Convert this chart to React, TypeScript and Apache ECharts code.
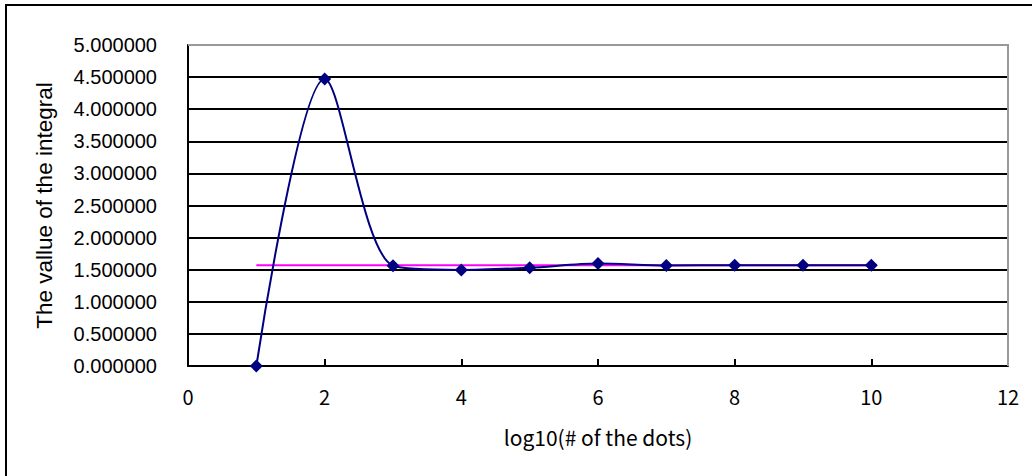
import React, { useEffect, useRef } from "react";
import * as echarts from "echarts";

const xValues = [1, 2, 3, 4, 5, 6, 7, 8, 9, 10];
const integralValues = [0.0, 4.47, 1.562, 1.497, 1.531, 1.595, 1.565, 1.571, 1.571, 1.571];
const referenceX = [1, 10];
const referenceValue = 1.5708;

export default function App() {
  const ref = useRef<HTMLDivElement>(null);
  useEffect(() => {
    document.body.style.margin = "0";
    const chart = echarts.init(ref.current!, null, { renderer: "svg" });
    const font = "'Liberation Sans', Arial, sans-serif";
    const gothic = "'Noto Sans CJK JP', 'DejaVu Sans', sans-serif";
    chart.setOption({
      animation: false,
      backgroundColor: "#ffffff",
      graphic: [
        {
          type: "rect",
          shape: { x: 6, y: 5, width: 1200, height: 600 },
          style: { fill: "none", stroke: "#000", lineWidth: 2 },
          silent: true,
          z: 100,
        },
        {
          type: "line",
          shape: { x1: 188, y1: 45, x2: 1008, y2: 45 },
          style: { stroke: "#999", lineWidth: 2 },
          silent: true,
          z: 100,
        },
        {
          type: "line",
          shape: { x1: 1008, y1: 44, x2: 1008, y2: 366 },
          style: { stroke: "#999", lineWidth: 2 },
          silent: true,
          z: 100,
        },
      ],
      grid: { left: 188, right: 24, top: 45, bottom: 110, containLabel: false },
      xAxis: {
        type: "value",
        min: 0,
        max: 12,
        interval: 2,
        name: "log10(# of the dots)",
        nameLocation: "middle",
        nameGap: 60,
        nameTextStyle: { fontFamily: gothic, fontSize: 21, color: "#000" },
        axisLine: { show: true, lineStyle: { color: "#000", width: 2 } },
        axisTick: { show: true, inside: true, length: 7, lineStyle: { color: "#000", width: 2 } },
        axisLabel: { fontFamily: gothic, fontSize: 20, color: "#000", margin: 20 },
        splitLine: { show: false },
      },
      yAxis: {
        type: "value",
        min: 0,
        max: 5,
        interval: 0.5,
        name: "The vallue of the integral",
        nameLocation: "middle",
        nameGap: 132,
        nameRotate: 90,
        nameTextStyle: { fontFamily: font, fontSize: 22.5, color: "#000" },
        axisLine: { show: true, lineStyle: { color: "#000", width: 2 } },
        axisTick: { show: false },
        axisLabel: {
          fontFamily: font,
          fontSize: 20,
          color: "#000",
          margin: 31,
          formatter: (v: number) => v.toFixed(6),
        },
        splitLine: { show: true, lineStyle: { color: "#000", width: 2 } },
      },
      series: [
        {
          type: "line",
          data: referenceX.map((x) => [x, referenceValue]),
          showSymbol: false,
          symbol: "none",
          lineStyle: { color: "#ff00ff", width: 2 },
          z: 2,
        },
        {
          type: "line",
          data: xValues.map((x, i) => [x, integralValues[i]]),
          smooth: 0.3,
          symbol: "diamond",
          symbolSize: 13,
          itemStyle: { color: "#000080" },
          lineStyle: { color: "#000080", width: 2 },
          z: 3,
        },
      ],
    });
    return () => chart.dispose();
  }, []);
  return <div ref={ref} style={{ width: 1032, height: 476 }} />;
}
